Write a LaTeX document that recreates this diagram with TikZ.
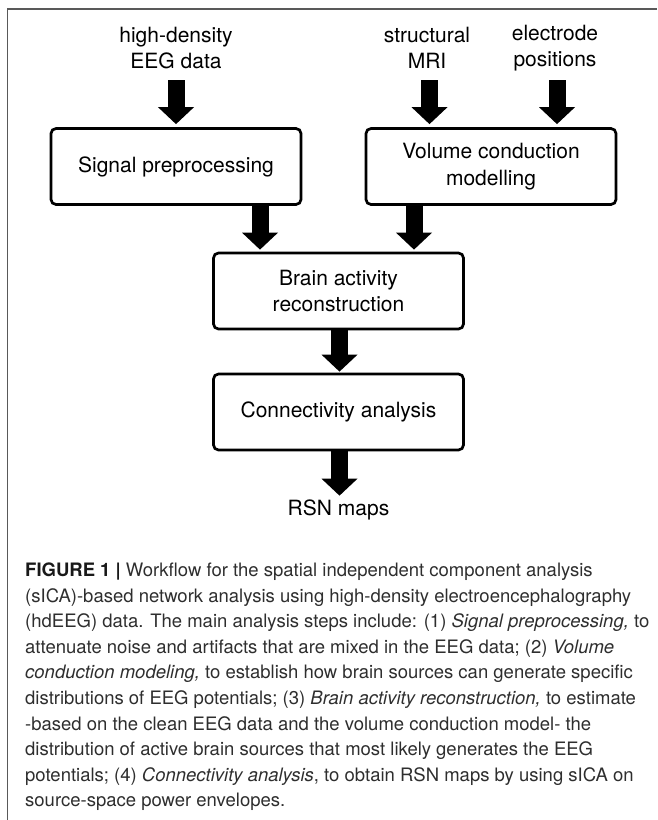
\documentclass[tikz,border=0pt]{standalone}
\usepackage{fontspec}
\setmainfont{TeX Gyre Heros}
\usetikzlibrary{arrows.meta,calc}
\begin{document}
\begin{tikzpicture}[x=1pt,y=-1pt,
  stepbox/.style={draw=black, line width=2.7pt, rounded corners=5pt,
    minimum width=250pt, minimum height=76pt, align=center, inner sep=0pt,
    font=\fontsize{21}{26.5}\selectfont},
  lbl/.style={align=center, inner sep=0pt, font=\fontsize{21}{26}\selectfont},
  bigarrow/.style={line width=17pt, -{Triangle[width=35pt,length=17pt]}},
  capline/.style={anchor=base west, inner sep=0pt,
    font=\fontsize{18.5}{25.6}\selectfont, text=black!82}
]
\useasboundingbox (0,0) rectangle (657,820);
% frame
\draw[line width=1.2pt, draw=black!65] (7.5,820) -- (7.5,9) -- (657,9);

% inputs
\node[lbl] (eeg)  at (176,48) {high-density\\EEG data};
\node[lbl] (mri)  at (427,48) {structural\\MRI};
\node[lbl] (elec) at (555,48) {electrode\\positions};

% boxes
\node[stepbox] (sig)   at (176,166.5) {Signal preprocessing};
\node[stepbox] (vol)   at (491,166.5) {Volume conduction\\modelling};
\node[stepbox] (brain) at (338.5,291) {Brain activity\\reconstruction};
\node[stepbox] (conn)  at (338.5,412) {Connectivity analysis};
\node[lbl] (rsn) at (338.5,510) {RSN maps};

% arrow columns
\coordinate (ca1) at (176,80);
\coordinate (ca2) at (429.5,80);
\coordinate (ca3) at (557,80);
\coordinate (cb1) at (260,0);
\coordinate (cb2) at (414,0);
\coordinate (cc)  at (339.5,0);

\draw[bigarrow] (ca1) -- ($(ca1 |- sig.north)+(0,-3)$);
\draw[bigarrow] (ca2) -- ($(ca2 |- vol.north)+(0,-3)$);
\draw[bigarrow] (ca3) -- ($(ca3 |- vol.north)+(0,-3)$);
\draw[bigarrow] (sig.south -| cb1) -- ($(cb1 |- brain.north)+(0,-2)$);
\draw[bigarrow] (vol.south -| cb2) -- ($(cb2 |- brain.north)+(0,-2)$);
\draw[bigarrow] (brain.south -| cc) -- ($(cc |- conn.north)+(0,-1)$);
\draw[bigarrow] (conn.south -| cc) -- ($(cc |- rsn.north)+(0,-4)$);

% caption
\node[capline] (l1)  at (25,576.5) {\textbf{\color{black!90}FIGURE 1 |} Workflow for the spatial independent component analysis};
\node[capline] (l2)  at (25,602.1) {(sICA)-based network analysis using high-density electroencephalography};
\node[capline] (l3)  at (25,627.7) {(hdEEG) data. The main analysis steps include: (1) \textit{Signal preprocessing,} to};
\node[capline] (l4)  at (25,653.3) {attenuate noise and artifacts that are mixed in the EEG data; (2) \textit{Volume}};
\node[capline] (l5)  at (25,678.9) {\textit{conduction modeling,} to establish how brain sources can generate specific};
\node[capline] (l6)  at (25,704.5) {distributions of EEG potentials; (3) \textit{Brain activity reconstruction,} to estimate};
\node[capline] (l7)  at (25,730.1) {-based on the clean EEG data and the volume conduction model- the};
\node[capline] (l8)  at (25,755.7) {distribution of active brain sources that most likely generates the EEG};
\node[capline] (l9)  at (25,781.3) {potentials; (4) \textit{Connectivity analysis}, to obtain RSN maps by using sICA on};
\node[capline] (l10) at (25,806.9) {source-space power envelopes.};
\end{tikzpicture}
\end{document}
